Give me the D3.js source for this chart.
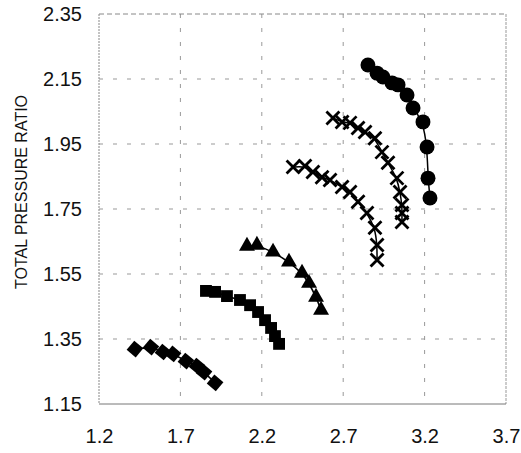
<!DOCTYPE html>
<html lang="en">
<head>
<meta charset="utf-8">
<title>Total pressure ratio</title>
<script src="https://cdn.jsdelivr.net/npm/d3@7"></script>
<style>
  body { margin: 0; background: #fff; }
  text { font-family: "Liberation Sans", Arial, sans-serif; fill: #111; }
</style>
</head>
<body>
<script>
// data
var xTicks = [1.2, 1.7, 2.2, 2.7, 3.2, 3.7];
var yTicks = [1.15, 1.35, 1.55, 1.75, 1.95, 2.15, 2.35];

var diamondX = [1.421, 1.519, 1.593, 1.655, 1.734, 1.802, 1.845, 1.913];
var diamondY = [1.319, 1.325, 1.310, 1.304, 1.282, 1.267, 1.248, 1.215];

var squareX = [1.857, 1.913, 1.986, 2.066, 2.128, 2.177, 2.220, 2.257, 2.281, 2.306];
var squareY = [1.498, 1.495, 1.482, 1.470, 1.454, 1.433, 1.408, 1.384, 1.359, 1.335];

var triangleX = [2.109, 2.170, 2.269, 2.367, 2.447, 2.490, 2.533, 2.564];
var triangleY = [1.636, 1.639, 1.618, 1.587, 1.553, 1.522, 1.479, 1.439];

var cross1X = [2.392, 2.465, 2.514, 2.570, 2.619, 2.693, 2.742, 2.791, 2.846, 2.895, 2.908, 2.908];
var cross1Y = [1.879, 1.882, 1.864, 1.848, 1.839, 1.818, 1.802, 1.772, 1.738, 1.692, 1.639, 1.593];

var cross2X = [2.637, 2.693, 2.742, 2.791, 2.834, 2.895, 2.938, 2.975, 3.030, 3.049, 3.061, 3.061, 3.061];
var cross2Y = [2.030, 2.018, 2.015, 1.999, 1.987, 1.968, 1.925, 1.892, 1.845, 1.802, 1.762, 1.738, 1.710];

var circleX = [2.852, 2.908, 2.944, 3.000, 3.037, 3.092, 3.129, 3.190, 3.215, 3.221, 3.233];
var circleY = [2.193, 2.168, 2.156, 2.138, 2.132, 2.101, 2.061, 2.018, 1.941, 1.845, 1.784];

//setup
var W = 521, H = 453;
var pLeft = 99, pTop = 14, pRight = 506, pBottom = 404;

var svg = d3.select("body").append("svg")
  .attr("width", W)
  .attr("height", H);

var x = d3.scaleLinear().domain([1.2, 3.7]).range([pLeft, pRight]);
var y = d3.scaleLinear().domain([1.15, 2.35]).range([pBottom, pTop]);

// dashed grid
svg.selectAll(".gx").data(xTicks.slice(1, -1)).enter().append("line")
  .attr("x1", function(d) { return x(d); })
  .attr("x2", function(d) { return x(d); })
  .attr("y1", pTop).attr("y2", pBottom)
  .attr("stroke", "#999").attr("stroke-width", 1)
  .attr("stroke-dasharray", "4,10");
svg.selectAll(".gy").data(yTicks.slice(1, -1)).enter().append("line")
  .attr("y1", function(d) { return y(d); })
  .attr("y2", function(d) { return y(d); })
  .attr("x1", pLeft).attr("x2", pRight)
  .attr("stroke", "#999").attr("stroke-width", 1)
  .attr("stroke-dasharray", "4,10");

// frame
svg.append("line").attr("x1", pLeft).attr("x2", pRight).attr("y1", pTop).attr("y2", pTop)
  .attr("stroke", "#888").attr("stroke-dasharray", "5,3");
svg.append("line").attr("x1", pLeft).attr("x2", pLeft).attr("y1", pTop).attr("y2", pBottom)
  .attr("stroke", "#888").attr("stroke-dasharray", "2,1");
svg.append("line").attr("x1", pRight).attr("x2", pRight).attr("y1", pTop).attr("y2", pBottom)
  .attr("stroke", "#999").attr("stroke-dasharray", "3,1");
svg.append("line").attr("x1", pLeft).attr("x2", pRight).attr("y1", pBottom).attr("y2", pBottom)
  .attr("stroke", "#777");

// axes, drawn without domain path
var xAxis = d3.axisBottom(x).tickValues(xTicks).tickSize(0).tickPadding(0)
  .tickFormat(d3.format(".1f"));
var gx = svg.append("g").attr("transform", "translate(0," + (pBottom + 25) + ")").call(xAxis);
gx.select(".domain").remove();
gx.selectAll("text").attr("font-size", 20).attr("dy", "0.7em")
  .attr("font-family", "Liberation Sans, Arial, sans-serif").attr("fill", "#111");

var yAxis = d3.axisLeft(y).tickValues(yTicks).tickSize(0).tickPadding(0)
  .tickFormat(d3.format(".2f"));
var gy = svg.append("g").attr("transform", "translate(" + (pLeft - 17) + ",0)").call(yAxis);
gy.select(".domain").remove();
gy.selectAll("text").attr("font-size", 20)
  .attr("font-family", "Liberation Sans, Arial, sans-serif").attr("fill", "#111");

svg.append("text")
  .attr("transform", "translate(27,192) rotate(-90)")
  .attr("text-anchor", "middle")
  .attr("font-size", 16)
  .text("TOTAL PRESSURE RATIO");

// series
function zip(xs, ys) {
  return xs.map(function(v, i) { return [v, ys[i]]; });
}
var series = [
  { pts: zip(diamondX, diamondY), mark: "diamond" },
  { pts: zip(squareX, squareY), mark: "square" },
  { pts: zip(triangleX, triangleY), mark: "triangle" },
  { pts: zip(cross1X, cross1Y), mark: "cross" },
  { pts: zip(cross2X, cross2Y), mark: "cross" },
  { pts: zip(circleX, circleY), mark: "circle" }
];

var line = d3.line()
  .x(function(d) { return x(d[0]); })
  .y(function(d) { return y(d[1]); })
  .curve(d3.curveBasis);

series.forEach(function(s) {
  svg.append("path").attr("d", line(s.pts))
    .attr("fill", "none").attr("stroke", "#000").attr("stroke-width", 1.5);

  var g = svg.append("g");
  var m = g.selectAll("path.m").data(s.pts).enter().append("path")
    .attr("class", "m")
    .attr("transform", function(d) {
      var t = "translate(" + x(d[0]) + "," + y(d[1]) + ")";
      if (s.mark == "diamond") t += " rotate(40)";
      return t;
    });
  if (s.mark == "cross") {
    m.attr("d", "M-6.5,-6.5L6.5,6.5M-6.5,6.5L6.5,-6.5")
      .attr("stroke", "#000").attr("stroke-width", 2.8).attr("fill", "none");
  } else {
    var sym = { diamond: d3.symbolSquare, square: d3.symbolSquare,
                triangle: d3.symbolTriangle, circle: d3.symbolCircle }[s.mark];
    var size = { diamond: 140, square: 140, triangle: 110, circle: 175 }[s.mark];
    m.attr("d", d3.symbol().type(sym).size(size)).attr("fill", "#000");
  }
});
</script>
</body>
</html>
